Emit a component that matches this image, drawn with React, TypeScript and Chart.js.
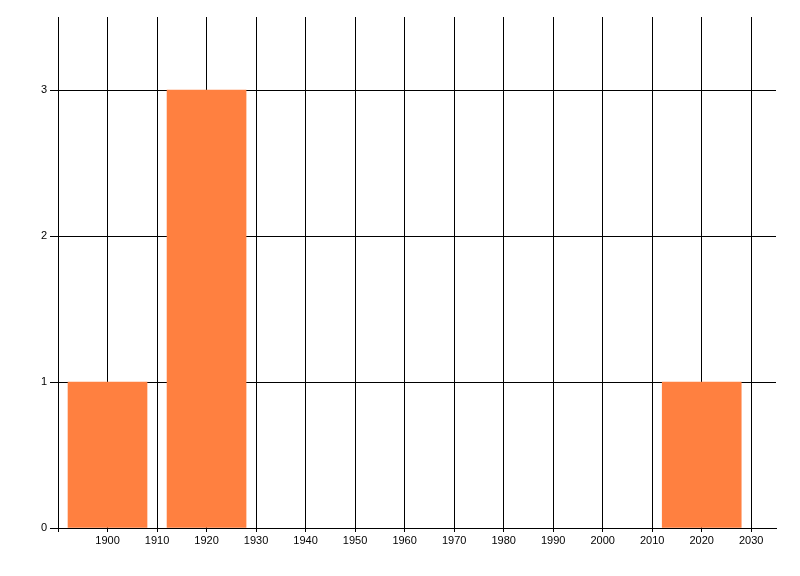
import React, { useEffect, useRef } from "react";
import { Chart, registerables } from "chart.js";

Chart.register(...registerables);

const years = [1900, 1920, 2020];
const counts = [1, 3, 1];
const xTickValues = [1890, 1900, 1910, 1920, 1930, 1940, 1950, 1960, 1970, 1980, 1990, 2000, 2010, 2020, 2030];
const yTickValues = [0, 1, 2, 3];
const xMin = 1890;
const xMax = 2035;
const yMax = 3.5;

export default function App() {
  const ref = useRef<HTMLCanvasElement | null>(null);
  useEffect(() => {
    if (!ref.current) return;
    const font = { family: "Liberation Sans", size: 11 };
    const chart = new Chart(ref.current, {
      type: "bar",
      data: {
        datasets: [
          {
            data: years.map((y, i) => ({ x: y, y: counts[i] })),
            backgroundColor: "#FF8040",
            borderWidth: 0,
            barThickness: 79,
          },
        ],
      },
      options: {
        animation: false,
        responsive: true,
        maintainAspectRatio: false,
        layout: { padding: { top: 17, right: 24, left: 0, bottom: 0 } },
        plugins: { legend: { display: false }, tooltip: { enabled: false } },
        scales: {
          x: {
            type: "linear",
            min: xMin,
            max: xMax,
            offset: false,
            afterBuildTicks: (s: any) => {
              s.ticks = xTickValues.map((v) => ({ value: v }));
            },
            afterFit: (s: any) => {
              s.height = 48;
            },
            ticks: {
              color: "#000",
              font,
              padding: 2,
              maxRotation: 0,
              autoSkip: false,
              callback: (v: any) => (v === xMin ? "" : String(v)),
            },
            grid: { color: "#000", lineWidth: 1, drawTicks: true, tickLength: 4, offset: false },
            border: { color: "#000", width: 1 },
          },
          y: {
            min: 0,
            max: yMax,
            afterBuildTicks: (s: any) => {
              s.ticks = yTickValues.map((v) => ({ value: v }));
            },
            afterFit: (s: any) => {
              s.width = 58;
            },
            ticks: { color: "#000", font, padding: 3 },
            grid: { color: "#000", lineWidth: 1, drawTicks: true, tickLength: 8 },
            border: { display: false },
          },
        },
      },
    });
    return () => chart.destroy();
  }, []);
  return (
    <div style={{ position: "fixed", left: 0, top: 0, width: 800, height: 576, background: "#fff" }}>
      <canvas ref={ref} />
    </div>
  );
}
